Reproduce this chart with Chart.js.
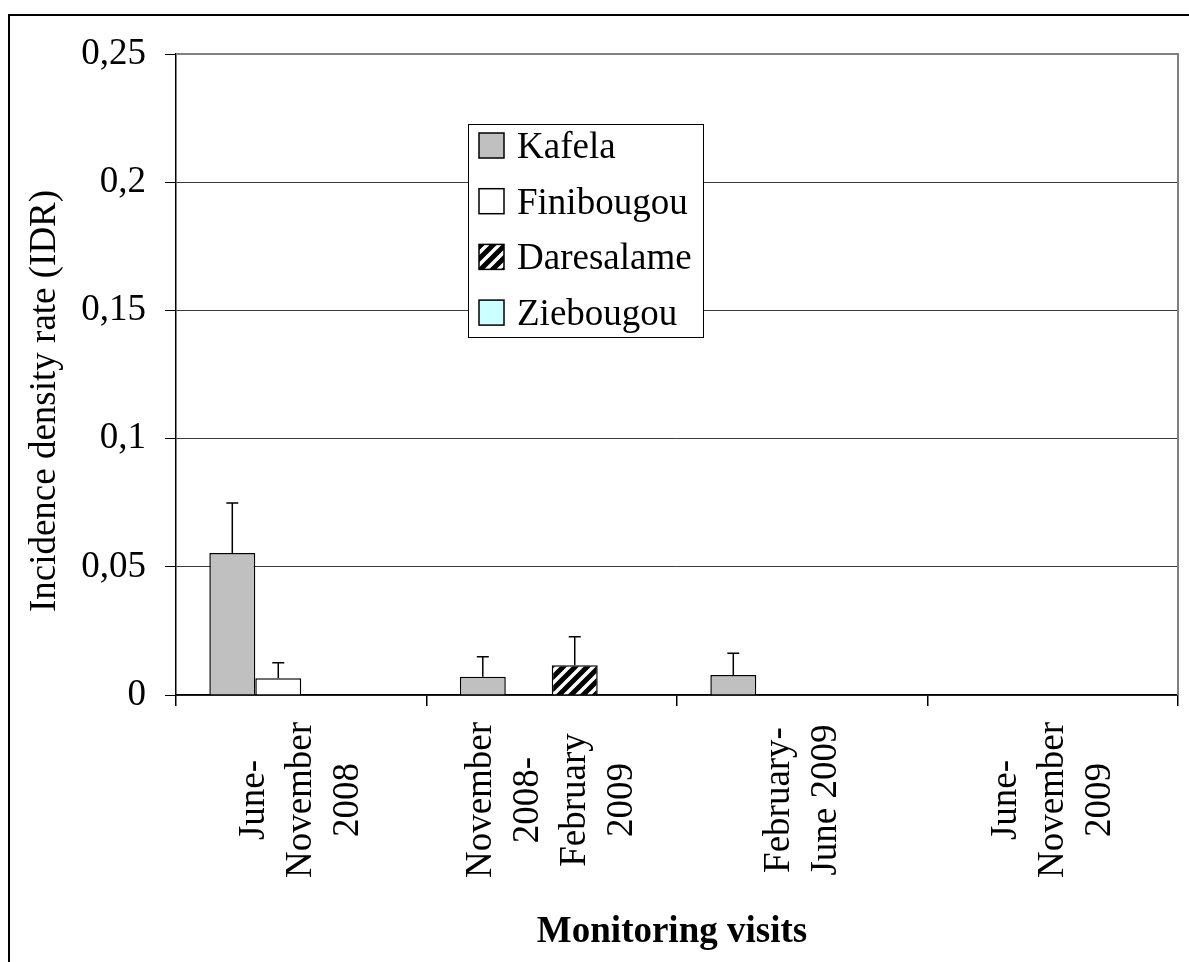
<!DOCTYPE html>
<html>
<head>
<meta charset="utf-8">
<script src="https://cdn.jsdelivr.net/npm/chart.js@4"></script>
<style>
  body { margin: 0; background: #fff; }
  canvas { display: block; }
</style>
</head>
<body>
<canvas id="chart" width="1189" height="962"></canvas>
<script>
// data
const visits = [
  ["June-", "November", "2008"],
  ["November", "2008-", "February", "2009"],
  ["February-", "June 2009"],
  ["June-", "November", "2009"]
];
const kafela = [0.0554, 0.0071, 0.0078, 0];
const kafelaErr = [0.0195, 0.0078, 0.0085, 0];
const finibougou = [0.0065, 0, 0, 0];
const finibougouErr = [0.0061, 0, 0, 0];
const daresalame = [0, 0.0116, 0, 0];
const daresalameErr = [0, 0.0111, 0, 0];
const ziebougou = [0, 0, 0, 0];
const ziebougouErr = [0, 0, 0, 0];
const yTicks = [0, 0.05, 0.1, 0.15, 0.2, 0.25];
const yTickLabels = ["0", "0,05", "0,1", "0,15", "0,2", "0,25"];

const FONT = '"Liberation Serif", "Times New Roman", serif';

const canvas = document.getElementById("chart");
const ctx = canvas.getContext("2d");

// black with white diagonal stripes
function makeHatch() {
  const c = document.createElement("canvas");
  c.width = 12;
  c.height = 12;
  const g = c.getContext("2d");
  g.fillStyle = "#000";
  g.fillRect(0, 0, 12, 12);
  g.strokeStyle = "#fff";
  g.lineWidth = 3.5;
  g.beginPath();
  g.moveTo(-6, 6); g.lineTo(6, -6);
  g.moveTo(0, 12); g.lineTo(12, 0);
  g.moveTo(6, 18); g.lineTo(18, 6);
  g.stroke();
  return ctx.createPattern(c, "repeat");
}
const hatch = makeHatch();

const datasets = [
  { label: "Kafela", data: kafela, err: kafelaErr, backgroundColor: "#c0c0c0" },
  { label: "Finibougou", data: finibougou, err: finibougouErr, backgroundColor: "#ffffff" },
  { label: "Daresalame", data: daresalame, err: daresalameErr, backgroundColor: hatch },
  { label: "Ziebougou", data: ziebougou, err: ziebougouErr, backgroundColor: "#ccffff" }
].map(d => Object.assign(d, {
  borderColor: "#000",
  borderWidth: 1.5,
  categoryPercentage: 0.734,
  barPercentage: 1
}));

// outer frame and grey plot border
const framePlugin = {
  id: "frame",
  beforeDraw(chart) {
    const c = chart.ctx;
    c.save();
    c.strokeStyle = "#000";
    c.lineWidth = 2;
    c.strokeRect(9, 15, 3000, 3000);
    c.restore();
  },
  beforeDatasetsDraw(chart) {
    const a = chart.chartArea;
    const c = chart.ctx;
    c.save();
    c.strokeStyle = "#808080";
    c.lineWidth = 2;
    c.beginPath();
    c.moveTo(a.left, a.top);
    c.lineTo(a.right, a.top);
    c.lineTo(a.right, a.bottom);
    c.stroke();
    c.restore();
  }
};

// upward error bars
const errorBarPlugin = {
  id: "errorBars",
  afterDatasetsDraw(chart) {
    const c = chart.ctx;
    const y = chart.scales.y;
    c.save();
    c.strokeStyle = "#000";
    c.lineWidth = 1.5;
    chart.data.datasets.forEach((ds, i) => {
      const meta = chart.getDatasetMeta(i);
      meta.data.forEach((bar, j) => {
        const e = ds.err[j];
        if (!e) return;
        const top = y.getPixelForValue(ds.data[j] + e);
        c.beginPath();
        c.moveTo(bar.x, bar.y);
        c.lineTo(bar.x, top);
        c.moveTo(bar.x - 6, top);
        c.lineTo(bar.x + 6, top);
        c.stroke();
      });
    });
    c.restore();
  }
};

// legend box inside the plot, category labels and axis titles
const textPlugin = {
  id: "texts",
  afterDraw(chart) {
    const c = chart.ctx;
    c.save();

    // legend
    c.fillStyle = "#fff";
    c.fillRect(468, 124, 235, 213);
    c.strokeStyle = "#000";
    c.lineWidth = 1;
    c.strokeRect(468.5, 124.5, 235, 213);
    c.font = "37px " + FONT;
    c.textAlign = "left";
    c.textBaseline = "alphabetic";
    chart.data.datasets.forEach((ds, i) => {
      const top = 133 + i * 55.7;
      c.fillStyle = ds.backgroundColor;
      c.fillRect(479, top, 25, 25);
      c.strokeStyle = "#000";
      c.lineWidth = 1.5;
      c.strokeRect(479, top, 25, 25);
      c.fillStyle = "#000";
      c.fillText(ds.label, 517, top + 25);
    });

    // rotated category labels
    const x = chart.scales.x;
    c.font = "37px " + FONT;
    c.textAlign = "center";
    c.fillStyle = "#000";
    chart.data.labels.forEach((lines, i) => {
      const cx = x.getPixelForValue(i);
      lines.forEach((line, k) => {
        const bx = cx + (k - (lines.length - 1) / 2) * 47 + 10;
        c.save();
        c.translate(bx, 800);
        c.rotate(-Math.PI / 2);
        c.fillText(line, 0, 0);
        c.restore();
      });
    });

    // y title
    c.save();
    c.translate(55, 401);
    c.rotate(-Math.PI / 2);
    c.fillText("Incidence density rate (IDR)", 0, 0);
    c.restore();

    // x title
    c.font = "bold 37px " + FONT;
    c.fillText("Monitoring visits", 672, 942);

    c.restore();
  }
};

new Chart(ctx, {
  type: "bar",
  data: { labels: visits, datasets: datasets },
  plugins: [framePlugin, errorBarPlugin, textPlugin],
  options: {
    responsive: false,
    animation: false,
    layout: { padding: { left: 0, top: 54, right: 11, bottom: 0 } },
    plugins: {
      legend: { display: false },
      tooltip: { enabled: false }
    },
    scales: {
      x: {
        afterFit(scale) { scale.height = 267; },
        grid: {
          display: true,
          offset: true,
          drawOnChartArea: false,
          tickLength: 11,
          color: "#000",
          lineWidth: 1.5
        },
        border: { color: "#000", width: 1.5 },
        ticks: { display: false }
      },
      y: {
        min: 0,
        max: 0.25,
        afterFit(scale) { scale.width = 176; },
        afterBuildTicks(scale) { scale.ticks = yTicks.map(v => ({ value: v })); },
        grid: {
          color: "#3c3c3c",
          lineWidth: 1,
          tickLength: 11,
          tickColor: "#000"
        },
        border: { color: "#000", width: 1.5 },
        ticks: {
          padding: 19,
          color: "#000",
          font: { family: FONT, size: 37 },
          callback: (v, i) => yTickLabels[i]
        }
      }
    }
  }
});
</script>
</body>
</html>
